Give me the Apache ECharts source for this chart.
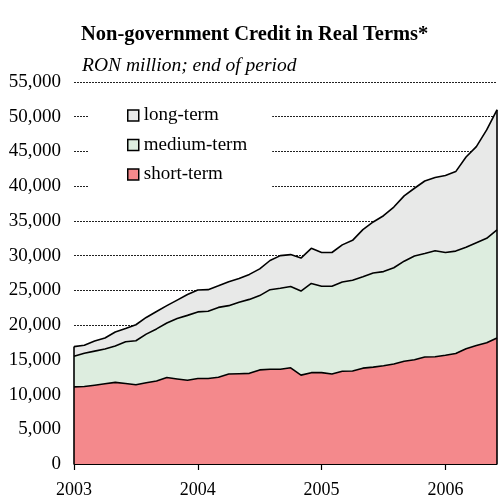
<!DOCTYPE html>
<html><head><meta charset="utf-8">
<script src="https://cdn.jsdelivr.net/npm/echarts/dist/echarts.min.js"></script>
<style>html,body{margin:0;padding:0;background:#fff}#c{width:498px;height:499px}</style>
</head><body><div id="c"></div>
<script>
const categories = [
  '2003-01','2003-02','2003-03','2003-04','2003-05','2003-06','2003-07','2003-08','2003-09','2003-10','2003-11','2003-12',
  '2004-01','2004-02','2004-03','2004-04','2004-05','2004-06','2004-07','2004-08','2004-09','2004-10','2004-11','2004-12',
  '2005-01','2005-02','2005-03','2005-04','2005-05','2005-06','2005-07','2005-08','2005-09','2005-10','2005-11','2005-12',
  '2006-01','2006-02','2006-03','2006-04','2006-05','2006-06'
];
const yearLabels = ['2003','2004','2005','2006'];
const shortTerm = [
  11100,11150,11350,11550,11750,11600,11400,11700,11950,12450,12250,12050,
  12300,12300,12500,12950,13000,13050,13550,13650,13650,13850,12800,13150,
  13150,12950,13350,13400,13800,13950,14150,14400,14800,15000,15400,15450,
  15650,15900,16600,17050,17450,18150
];
const mediumTerm = [
  4400,4800,4900,5000,5250,6000,6350,7000,7500,7850,8700,9350,
  9600,9700,10050,9850,10300,10650,10700,11450,11650,11700,12100,12850,
  12450,12650,12850,13050,13150,13550,13550,13850,14400,14950,14900,15250,
  14800,14750,14600,14800,15050,15550
];
const longTerm = [
  1400,1150,1450,1600,2000,1900,2300,2400,2500,2500,2650,3000,
  3150,3100,3100,3450,3400,3600,3850,4200,4700,4600,4750,5050,
  4850,4850,5350,5750,6800,7350,8050,8750,9400,9750,10450,10550,
  11100,11450,13000,13850,15600,17300
];
const seriesNames = ['short-term','medium-term','long-term'];
const colors = ['#F4898C','#DDEDDF','#E8E9E8'];
const yTickLabels = ['0','5,000','10,000','15,000','20,000','25,000','30,000','35,000','40,000','45,000','50,000','55,000'];

const FONT = "'Liberation Serif', 'Times New Roman', serif";
const last = categories.length - 1;
const total0 = shortTerm[0] + mediumTerm[0] + longTerm[0];
const totalN = shortTerm[last] + mediumTerm[last] + longTerm[last];

const chart = echarts.init(document.getElementById('c'), null, {renderer: 'canvas'});
const lineStyle = {color: '#000', width: 1.6};
function mk(name, data, color, extra) {
  return Object.assign({
    name: name, type: 'line', stack: 'total', data: data,
    showSymbol: false, symbol: 'none', smooth: false,
    lineStyle: lineStyle, itemStyle: {color: color},
    areaStyle: {color: color, opacity: 1},
    emphasis: {disabled: true}, animation: false
  }, extra || {});
}
chart.setOption({
  animation: false,
  backgroundColor: '#fff',
  title: [
    {text: 'Non-government Credit in Real Terms*', left: 81, top: 24, padding: 0,
     textStyle: {fontFamily: FONT, fontWeight: 'bold', fontSize: 20.5, color: '#000'}},
    {text: 'RON million; end of period', left: 82, top: 56, padding: 0,
     textStyle: {fontFamily: FONT, fontStyle: 'italic', fontWeight: 'normal', fontSize: 19.5, color: '#000'}}
  ],
  legend: {
    orient: 'vertical', left: 89, top: 96,
    padding: [9, 25, 4, 38],
    backgroundColor: '#fff',
    itemWidth: 11, itemHeight: 11, itemGap: 8.5,
    icon: 'rect',
    itemStyle: {borderColor: '#000', borderWidth: 1.5},
    textStyle: {fontFamily: FONT, fontSize: 19, color: '#000', lineHeight: 19, padding: [2,0,0,0]},
    data: ['long-term','medium-term','short-term']
  },
  grid: {left: 74, right: 1, top: 82, bottom: 33, containLabel: false},
  xAxis: {
    type: 'category', data: categories, boundaryGap: false,
    axisLine: {show: true, lineStyle: {color: '#000', width: 1.2}},
    axisTick: {show: true, length: 6, lineStyle: {color: '#000', width: 1.2},
      interval: function (i) { return i % 12 === 0; }},
    axisLabel: {interval: function (i) { return i % 12 === 0; }, margin: 17,
      fontFamily: FONT, fontSize: 18, color: '#000',
      formatter: function (v, i) { return yearLabels[Math.floor(i / 12)]; }},
    splitLine: {show: false}
  },
  yAxis: {
    type: 'value', min: 0, max: 55000, interval: 5000,
    axisLine: {show: false}, axisTick: {show: false},
    axisLabel: {margin: 13, fontFamily: FONT, fontSize: 19, color: '#000',
      formatter: function (v) { return yTickLabels[Math.round(v / 5000)]; }},
    splitLine: {show: true, lineStyle: {color: '#222', width: 1, type: [2, 1]}}
  },
  series: [
    mk(seriesNames[0], shortTerm, colors[0]),
    mk(seriesNames[1], mediumTerm, colors[1]),
    mk(seriesNames[2], longTerm, colors[2], {
      markLine: {
        silent: true, symbol: ['none','none'], label: {show: false},
        lineStyle: {color: '#000', width: 1.6, type: 'solid'},
        data: [
          [{coord: [categories[0], 0]}, {coord: [categories[0], total0]}],
          [{coord: [categories[last], 0]}, {coord: [categories[last], totalN]}]
        ]
      }
    })
  ]
});
</script>
</body></html>
